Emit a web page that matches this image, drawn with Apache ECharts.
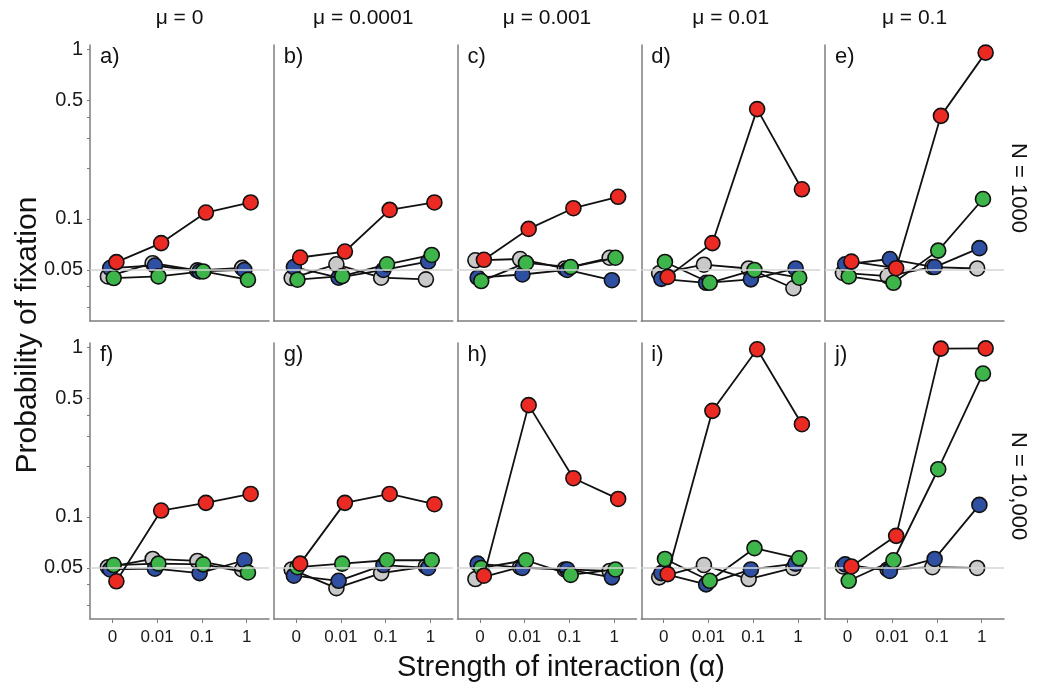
<!DOCTYPE html>
<html>
<head>
<meta charset="utf-8">
<script src="https://cdn.jsdelivr.net/npm/echarts@6/dist/echarts.min.js"></script>
<style>html,body{margin:0;padding:0;background:#fff}#c{width:1039px;height:688px}</style>
</head>
<body>
<div id="c"></div>
<script>
// ---- data ----
const categories = ['0', '0.01', '0.1', '1'];
const muLabels = ['μ = 0', 'μ = 0.0001', 'μ = 0.001', 'μ = 0.01', 'μ = 0.1'];
const nLabels = ['N = 1000', 'N = 10,000'];
const panelLetters = ['a)', 'b)', 'c)', 'd)', 'e)', 'f)', 'g)', 'h)', 'i)', 'j)'];
const yTickLabels = [1, 0.5, 0.1, 0.05];
const yTickMarks = [1, 0.5, 0.4, 0.3, 0.2, 0.1, 0.05, 0.04, 0.03];
const referenceLevel = 0.05;
const yTitle = 'Probability of fixation';
const xTitle = 'Strength of interaction (α)';

// rows = panels a..j, columns = alpha 0, 0.01, 0.1, 1
const grey = [
  [0.0458, 0.0548, 0.0497, 0.0514],
  [0.0448, 0.054, 0.045, 0.044],
  [0.057, 0.058, 0.051, 0.059],
  [0.0478, 0.0537, 0.051, 0.039],
  [0.048, 0.046, 0.052, 0.051],
  [0.0505, 0.0565, 0.055, 0.049],
  [0.049, 0.038, 0.0466, 0.051],
  [0.043, 0.0505, 0.049, 0.048],
  [0.044, 0.052, 0.043, 0.050],
  [0.051, 0.049, 0.0505, 0.050]
];
const blue = [
  [0.0513, 0.0531, 0.049, 0.050],
  [0.052, 0.045, 0.050, 0.056],
  [0.045, 0.047, 0.050, 0.0435],
  [0.0443, 0.042, 0.044, 0.051],
  [0.054, 0.058, 0.052, 0.0672],
  [0.049, 0.0495, 0.0466, 0.0555],
  [0.045, 0.042, 0.052, 0.050],
  [0.053, 0.050, 0.049, 0.044],
  [0.0466, 0.040, 0.049, 0.053],
  [0.0525, 0.048, 0.0565, 0.1177]
];
const green = [
  [0.0448, 0.0458, 0.049, 0.0438],
  [0.0438, 0.046, 0.054, 0.0613],
  [0.043, 0.055, 0.052, 0.059],
  [0.0557, 0.042, 0.050, 0.045],
  [0.0458, 0.042, 0.065, 0.131],
  [0.052, 0.053, 0.0525, 0.047],
  [0.0505, 0.053, 0.0555, 0.0555],
  [0.050, 0.0555, 0.0455, 0.049],
  [0.0565, 0.042, 0.0654, 0.057],
  [0.042, 0.0555, 0.191, 0.70]
];
const red = [
  [0.0556, 0.072, 0.109, 0.125],
  [0.0592, 0.0642, 0.113, 0.125],
  [0.0574, 0.0873, 0.1156, 0.135],
  [0.0455, 0.072, 0.444, 0.1495],
  [0.056, 0.0512, 0.405, 0.956],
  [0.0417, 0.109, 0.121, 0.1365],
  [0.053, 0.121, 0.1365, 0.1188],
  [0.045, 0.456, 0.169, 0.1276],
  [0.046, 0.422, 0.973, 0.352],
  [0.051, 0.0773, 0.982, 0.985]
];

// ---- styling / layout ----
const FONT = 'Liberation Sans, Arial, sans-serif';
const AXIS_COLOR = '#7d7d7d';
const seriesDefs = [
  { name: 'grey', values: grey, color: '#c9c9c9', dodge: -0.10 },
  { name: 'blue', values: blue, color: '#2f4fa3', dodge: -0.05 },
  { name: 'green', values: green, color: '#3db54a', dodge: 0.03 },
  { name: 'red', values: red, color: '#ec2a24', dodge: 0.09 }
];
const GRID_LEFT0 = 90, GRID_STEP = 183.75, GRID_W = 179;
const ROW_TOP = [45, 343], GRID_H = 276;

const grids = [], xAxes = [], yAxes = [], series = [], graphics = [];
for (let p = 0; p < 10; p++) {
  const row = Math.floor(p / 5), col = p % 5;
  const left = GRID_LEFT0 + col * GRID_STEP;
  grids.push({ left: left, top: ROW_TOP[row], width: GRID_W, height: GRID_H, containLabel: false });
  xAxes.push({
    type: 'value', gridIndex: p, min: -0.5, max: 3.5,
    splitLine: { show: false },
    axisLine: { show: true, onZero: false, lineStyle: { color: AXIS_COLOR, width: 1.5 } },
    axisTick: { show: row === 1, customValues: [0, 1, 2, 3], length: 4, lineStyle: { color: AXIS_COLOR } },
    axisLabel: {
      show: row === 1, customValues: [0, 1, 2, 3], margin: 10,
      formatter: v => categories[Math.round(v)],
      fontFamily: FONT, fontSize: 17, color: '#1a1a1a'
    }
  });
  yAxes.push({
    type: 'log', gridIndex: p, min: 0.025, max: 1.06, logBase: 10,
    splitLine: { show: false },
    axisLine: { show: true, onZero: false, lineStyle: { color: AXIS_COLOR, width: 1.5 } },
    axisTick: { show: col === 0, customValues: yTickMarks, length: 3, lineStyle: { color: AXIS_COLOR } },
    axisLabel: {
      show: col === 0, customValues: yTickLabels, margin: 7,
      formatter: v => String(+v.toPrecision(3)),
      fontFamily: FONT, fontSize: 20, color: '#1a1a1a'
    }
  });
  seriesDefs.forEach((s, k) => {
    const ser = {
      type: 'line', name: s.name, xAxisIndex: p, yAxisIndex: p,
      data: s.values[p].map((v, i) => [i + s.dodge, v]),
      symbol: 'circle', symbolSize: 15,
      itemStyle: { color: s.color, borderColor: '#111', borderWidth: 1.6 },
      lineStyle: { color: '#111', width: 1.8 },
      z: 2 + k, animation: false, silent: true
    };
    if (k === 0) {
      ser.markLine = {
        silent: true, symbol: 'none', animation: false,
        label: { show: false },
        lineStyle: { color: '#d4d4d4', type: 'solid', width: 1.5 },
        data: [{ yAxis: referenceLevel }]
      };
    }
    series.push(ser);
  });
  graphics.push({
    type: 'text', left: left + 10, top: ROW_TOP[row] + 1,
    style: { text: panelLetters[p], fontFamily: FONT, fontSize: 22, fill: '#111' }
  });
}
muLabels.forEach((t, c) => {
  graphics.push({
    type: 'text', x: GRID_LEFT0 + c * GRID_STEP + GRID_W / 2, y: 18,
    style: { text: t, fontFamily: FONT, fontSize: 21, fill: '#111', align: 'center', verticalAlign: 'middle' }
  });
});
nLabels.forEach((t, r) => {
  graphics.push({
    type: 'text', x: 1018, y: ROW_TOP[r] + GRID_H / 2 + 5, rotation: -Math.PI / 2,
    style: { text: t, fontFamily: FONT, fontSize: 22, fill: '#111', align: 'center', verticalAlign: 'middle' }
  });
});
graphics.push({
  type: 'text', x: 28, y: 335, rotation: Math.PI / 2,
  style: { text: yTitle, fontFamily: FONT, fontSize: 30, fill: '#111', align: 'center', verticalAlign: 'middle' }
});
graphics.push({
  type: 'text', x: 561, y: 668,
  style: { text: xTitle, fontFamily: FONT, fontSize: 29, fill: '#111', align: 'center', verticalAlign: 'middle' }
});

const chart = echarts.init(document.getElementById('c'), null, { renderer: 'canvas' });
chart.setOption({
  backgroundColor: '#fff',
  animation: false,
  grid: grids, xAxis: xAxes, yAxis: yAxes, series: series,
  graphic: graphics
});
</script>
</body>
</html>
